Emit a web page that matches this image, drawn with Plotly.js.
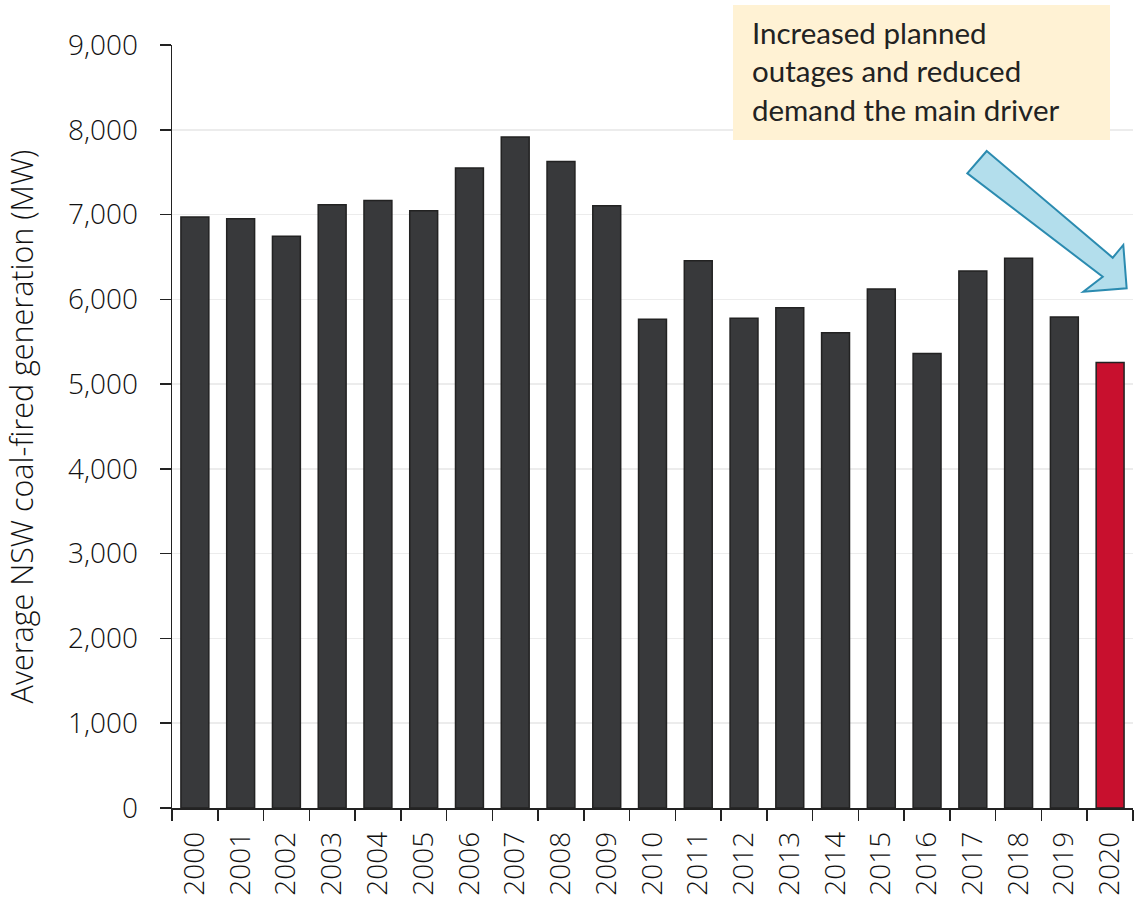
<!DOCTYPE html>
<html>
<head>
<meta charset="utf-8">
<script src="https://cdn.plot.ly/plotly-3.0.1.min.js"></script>
<style>html,body{margin:0;padding:0;background:#fff;}#chart{width:1140px;height:902px;}</style>
</head>
<body>
<div id="chart"></div>
<script>
const years = ["2000","2001","2002","2003","2004","2005","2006","2007","2008","2009","2010",
               "2011","2012","2013","2014","2015","2016","2017","2018","2019","2020"];
const generationMW = [6970, 6950, 6745, 7115, 7165, 7045, 7550, 7915, 7625, 7105, 5765,
                      6455, 5778, 5900, 5605, 6122, 5360, 6335, 6485, 5792, 5255];
const highlightYear = "2020";
const yTicks = [0,1000,2000,3000,4000,5000,6000,7000,8000,9000];
const yTitle = "Average NSW coal-fired generation (MW)";
const noteLines = ["Increased planned", "outages and reduced", "demand the main driver"];

const W = 1140, H = 902;
const m = {l:172, r:7, t:45, b:94};
const pw = W - m.l - m.r, ph = H - m.t - m.b;
const px = x => (x - m.l) / pw;
const py = y => (H - m.b - y) / ph;

const colors = years.map(y => y === highlightYear ? "#c8102e" : "#38393b");

const arrowPts = [[986.7,151],[1112.7,257.7],[1123.3,245],[1126.7,288.3],[1083.3,291.7],[1102.7,276.7],[967.3,173.3]];
const arrowPath = "M " + arrowPts.map(p => px(p[0]).toFixed(4) + "," + py(p[1]).toFixed(4)).join(" L ") + " Z";

const data = [{
  type: "bar",
  x: years,
  y: generationMW,
  marker: {color: colors, line: {color: "#222222", width: 1.5}},
  hoverinfo: "x+y"
}];

const fontFam = "'Open Sans', 'Noto Sans', sans-serif";
const tickFont = {size: 28, family: fontFam, color: "#111111", weight: 300};
const layout = {
  width: W, height: H,
  margin: m,
  paper_bgcolor: "#ffffff",
  plot_bgcolor: "#ffffff",
  bargap: 0.39,
  showlegend: false,
  font: {family: fontFam, color: "#111111", size: 27},
  xaxis: {
    type: "category",
    tickson: "boundaries",
    ticks: "outside", ticklen: 11, tickwidth: 1.5, tickcolor: "#222222",
    showline: true, linecolor: "#222222", linewidth: 1.5,
    tickangle: -90,
    ticklabelstandoff: 11,
    tickfont: tickFont,
    showgrid: false,
    range: [-0.5, 20.5]
  },
  yaxis: {
    range: [0, 9000],
    tickvals: yTicks,
    tickformat: ",",
    ticks: "outside", ticklen: 11, tickwidth: 1.5, tickcolor: "#222222",
    showline: true, linecolor: "#222222", linewidth: 1.5,
    showgrid: true, gridcolor: "#ececec", gridwidth: 1.5,
    zeroline: false,
    ticklabelstandoff: 16,
    tickfont: tickFont,
    title: {text: yTitle, font: {size: 30.5, family: fontFam, color: "#111111", weight: 300}, standoff: 28}
  },
  shapes: [
    {type: "rect", xref: "paper", yref: "paper",
     x0: px(733), x1: px(1110), y0: py(140), y1: py(5),
     fillcolor: "#fff2d4", line: {width: 0}, layer: "above"},
    {type: "path", xref: "paper", yref: "paper", path: arrowPath,
     fillcolor: "#b3deec", line: {color: "#2b8bb0", width: 2}, layer: "above"}
  ],
  annotations: [{
    xref: "paper", yref: "paper",
    x: px(750), y: py(13),
    xanchor: "left", yanchor: "top",
    align: "left", showarrow: false,
    text: noteLines.join("<br>"),
    font: {family: "Lato, 'Open Sans', sans-serif", size: 29.5, color: "#222222"}
  }]
};

Plotly.newPlot("chart", data, layout, {displayModeBar: false, staticPlot: true});
</script>
</body>
</html>
